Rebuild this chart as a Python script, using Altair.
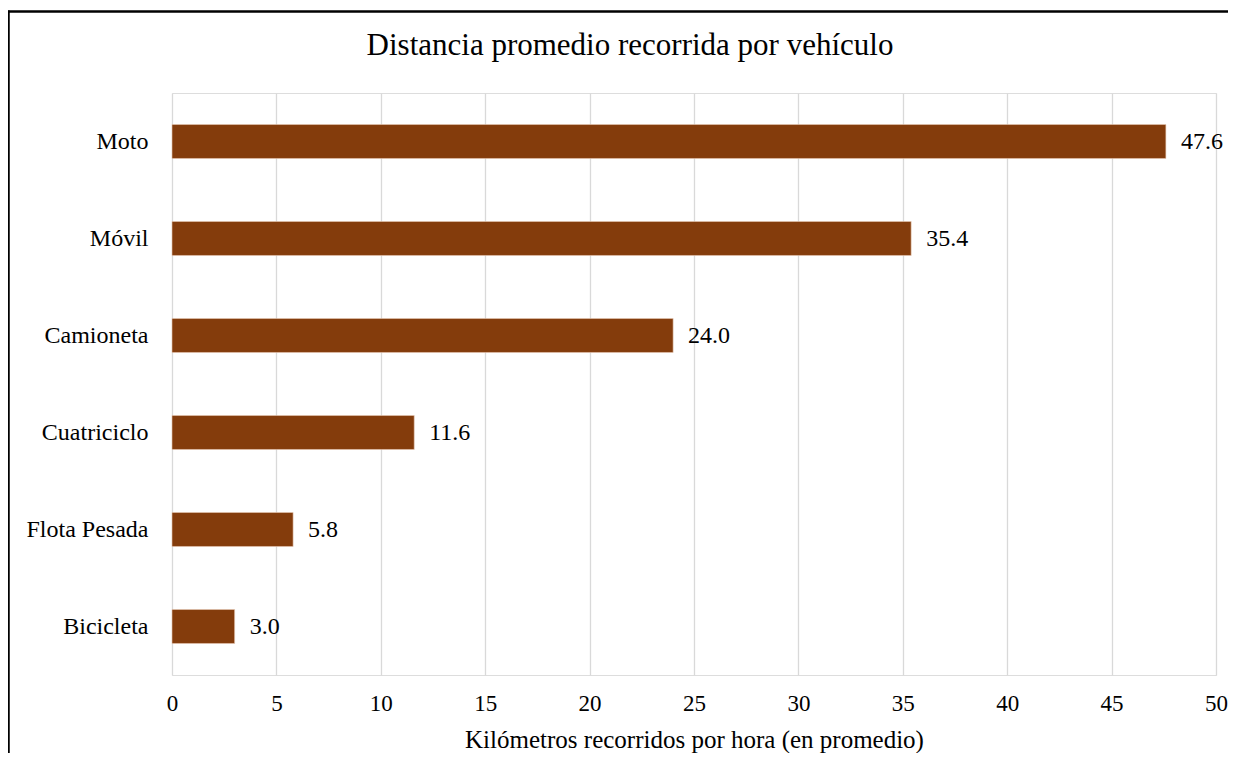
import altair as alt
import pandas as pd

categories = ["Moto", "Móvil", "Camioneta", "Cuatriciclo", "Flota Pesada", "Bicicleta"]
values = [47.6, 35.4, 24.0, 11.6, 5.8, 3.0]
title_text = "Distancia promedio recorrida por vehículo"
x_title = "Kilómetros recorridos por hora (en promedio)"

df = pd.DataFrame({"vehiculo": categories, "km": values})

FONT = "Liberation Serif"
BAR = "#843C0C"

y_enc = alt.Y(
    "vehiculo:N",
    sort=categories,
    title=None,
    scale=alt.Scale(paddingInner=0.65, paddingOuter=0.325),
    axis=alt.Axis(domain=False, ticks=False, labelPadding=24, labelFontSize=24,
                  labelFont=FONT, labelColor="#000000", grid=False),
)
x_enc = alt.X(
    "km:Q",
    title=x_title,
    scale=alt.Scale(domain=[0, 50], nice=False),
    axis=alt.Axis(values=list(range(0, 55, 5)), domain=False, ticks=False,
                  labelFlush=False, labelOverlap=False,
                  labelPadding=17, labelFontSize=23, labelFont=FONT,
                  labelColor="#000000", titleFont=FONT, titleFontSize=25,
                  titleFontWeight="normal", titleColor="#000000", titlePadding=12,
                  gridColor="#d9d9d9", gridWidth=1.3),
)

base = alt.Chart(df)
bars = base.mark_bar(color=BAR, stroke="#e8c9b5", strokeWidth=0.6).encode(x=x_enc, y=y_enc)
labels = base.mark_text(align="left", baseline="middle", dx=15, font=FONT, fontSize=24,
                        color="#000000").encode(
    x=alt.X("km:Q"), y=alt.Y("vehiculo:N", sort=categories),
    text=alt.Text("km:Q", format=".1f"))

one = alt.Data(values=[{}])
top_line = alt.Chart(one).mark_rule(color="#000000", strokeWidth=2.5, clip=False).encode(
    x=alt.value(-164), x2=alt.value(1060), y=alt.value(-81.5))
left_line = alt.Chart(one).mark_rule(color="#000000", strokeWidth=2.5, clip=False).encode(
    x=alt.value(-163.5), y=alt.value(-82.5), y2=alt.value(700))
title = alt.Chart(one).mark_text(font=FONT, fontSize=31, color="#000000", align="center",
                                 baseline="alphabetic", clip=False).encode(
    x=alt.value(458), y=alt.value(-38), text=alt.value(title_text))

chart = alt.layer(top_line, left_line, title, bars, labels).properties(
    width=1044, height=582,
    autosize=alt.AutoSizeParams(type="none"),
    padding={"left": 164, "top": 85, "right": 12, "bottom": 78},
).configure_view(stroke=None).configure(background="#ffffff")

chart.save("out.html", embed_options={"renderer": "svg", "actions": False})
